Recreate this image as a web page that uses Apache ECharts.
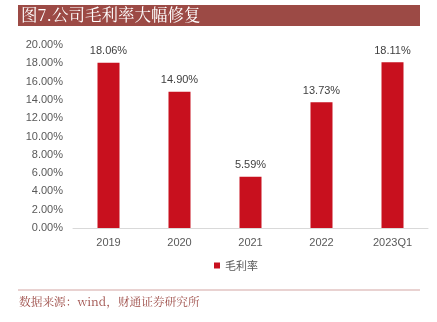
<!DOCTYPE html>
<html><head><meta charset="utf-8">
<script src="https://cdn.jsdelivr.net/npm/echarts@6/dist/echarts.min.js"></script>
<style>html,body{margin:0;padding:0;background:#fff}#c{width:437px;height:322px}</style>
</head><body><div id="c"></div>
<script>
const categories = ['2019','2020','2021','2022','2023Q1'];
const grossMargin = [18.06, 14.90, 5.59, 13.73, 18.11];
const seriesName = '毛利率';
const titleText = '图7.公司毛利率大幅修复';
const sourceText = '数据来源：wind，财通证券研究所';

const chart = echarts.init(document.getElementById('c'));
chart.setOption({
  animation: false,
  graphic: [
    {type:'rect', shape:{x:18,y:5,width:402,height:21}, style:{fill:'#9C4A45'}},
    {type:'text', left:21, top:6, style:{text:titleText, fill:'#fff', font:'16.5px "Noto Serif CJK SC","Noto Sans CJK SC", serif'}},
    {type:'rect', shape:{x:18,y:289.5,width:402,height:1}, style:{fill:'#D4A5A3'}},
    {type:'text', left:19, top:296, style:{text:sourceText, fill:'#9C4A45', font:'11.7px "Noto Serif CJK SC","Noto Sans CJK SC", serif'}}
  ],
  grid: {left:73, right:9, top:45, bottom:94, containLabel:false},
  legend: {data:[seriesName], bottom:46, left:209, itemWidth:6, itemHeight:6, itemGap:4,
    icon:'rect', textStyle:{color:'#595959', fontSize:11, fontFamily:'Noto Sans CJK SC'}},
  xAxis: {type:'category', data:categories,
    axisLine:{lineStyle:{color:'#D9D9D9'}}, axisTick:{show:false},
    axisLabel:{color:'#595959', fontSize:11, margin:9}},
  yAxis: {type:'value', min:0, max:20, interval:2,
    splitLine:{show:false}, axisLine:{show:false}, axisTick:{show:false},
    axisLabel:{color:'#595959', fontSize:11, margin:10, formatter:v=>v.toFixed(2)+'%'}},
  series: [{name:seriesName, type:'bar', data:grossMargin, barWidth:22,
    itemStyle:{color:'#C8101E'},
    label:{show:true, position:'top', color:'#404040', fontSize:11, distance:6,
      formatter:p=>p.value.toFixed(2)+'%'}}]
});
</script></body></html>
